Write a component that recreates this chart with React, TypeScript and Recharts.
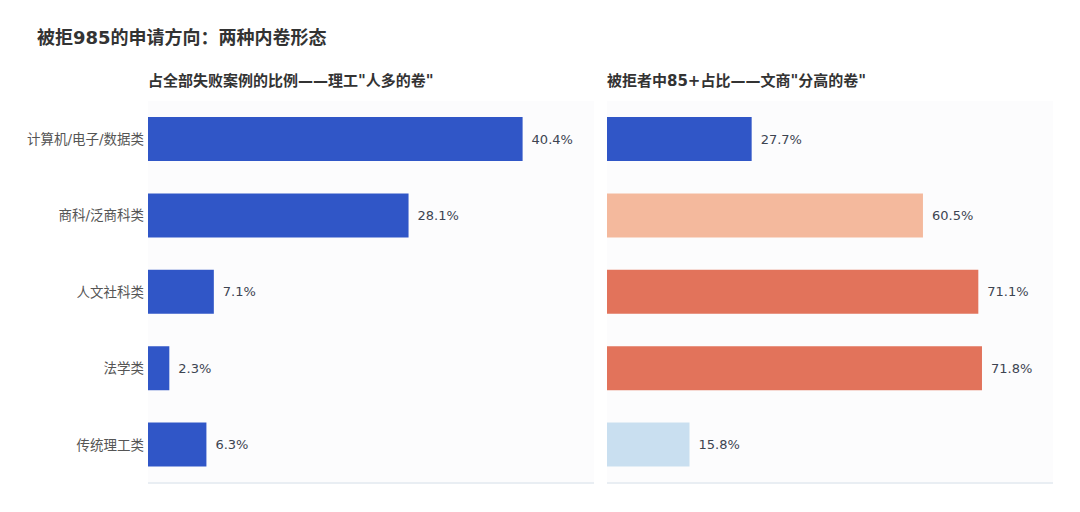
import { BarChart, Bar, XAxis, YAxis, Cell, LabelList, CartesianGrid } from "recharts";

const categories = ["计算机/电子/数据类", "商科/泛商科类", "人文社科类", "法学类", "传统理工类"];
const failShare = [40.4, 28.1, 7.1, 2.3, 6.3]; // 占全部失败案例的比例
const highScoreShare = [27.7, 60.5, 71.1, 71.8, 15.8]; // 被拒者中85+占比

const BLUE = "#3056c7";
const RIGHT_COLORS = ["#3056c7", "#f4b99d", "#e2735b", "#e2735b", "#c9dff0"];

const leftData = categories.map((name, i) => ({ name, value: failShare[i] }));
const rightData = categories.map((name, i) => ({ name, value: highScoreShare[i] }));

const FONT = "'DejaVu Sans', 'Noto Sans CJK SC', sans-serif";

const pct = (v: any) => `${v}%`;

const App = () => {
  return (
    <div
      style={{
        position: "absolute",
        left: 0,
        top: 0,
        width: 1080,
        height: 512,
        background: "#fff",
        fontFamily: FONT,
      }}
    >
      <div
        style={{
          position: "absolute",
          left: 37,
          top: 23,
          fontSize: 18,
          fontWeight: "bold",
          color: "#333",
        }}
      >
        被拒985的申请方向：两种内卷形态
      </div>
      <div style={{ position: "absolute", left: 148, top: 69, fontSize: 15, fontWeight: "bold", color: "#333" }}>
        占全部失败案例的比例——理工"人多的卷"
      </div>
      <div style={{ position: "absolute", left: 607, top: 69, fontSize: 15, fontWeight: "bold", color: "#333" }}>
        被拒者中85+占比——文商"分高的卷"
      </div>

      <div style={{ position: "absolute", left: 0, top: 0 }}>
        <BarChart
          width={600}
          height={512}
          data={leftData}
          layout="vertical"
          margin={{ top: 101, right: 6, bottom: 27, left: 0 }}
        >
          <CartesianGrid fill="#fcfcfd" horizontal={false} vertical={false} />
          <XAxis
            type="number"
            domain={[0, 48.1]}
            tick={false}
            tickLine={false}
            height={2}
            axisLine={{ stroke: "#e9eef3", strokeWidth: 2 }}
          />
          <YAxis
            type="category"
            dataKey="name"
            width={148}
            tickLine={false}
            axisLine={false}
            tickSize={0}
            tickMargin={4}
            tick={{ fontSize: 13.5, fill: "#555", fontFamily: FONT }}
          />
          <Bar dataKey="value" fill={BLUE} barSize={44} isAnimationActive={false}>
            <LabelList
              dataKey="value"
              position="right"
              offset={9}
              formatter={pct}
              style={{ fontSize: 13, fill: "#3d4451", fontFamily: FONT }}
            />
          </Bar>
        </BarChart>
      </div>

      <div style={{ position: "absolute", left: 607, top: 0 }}>
        <BarChart
          width={460}
          height={512}
          data={rightData}
          layout="vertical"
          margin={{ top: 101, right: 14, bottom: 27, left: 0 }}
        >
          <CartesianGrid fill="#fcfcfd" horizontal={false} vertical={false} />
          <XAxis
            type="number"
            domain={[0, 85.4]}
            tick={false}
            tickLine={false}
            height={2}
            axisLine={{ stroke: "#e9eef3", strokeWidth: 2 }}
          />
          <YAxis type="category" dataKey="name" hide />
          <Bar dataKey="value" barSize={44} isAnimationActive={false}>
            {rightData.map((entry, index) => (
              <Cell key={`cell-${index}`} fill={RIGHT_COLORS[index % RIGHT_COLORS.length]} />
            ))}
            <LabelList
              dataKey="value"
              position="right"
              offset={9}
              formatter={pct}
              style={{ fontSize: 13, fill: "#3d4451", fontFamily: FONT }}
            />
          </Bar>
        </BarChart>
      </div>
    </div>
  );
};

export default App;
